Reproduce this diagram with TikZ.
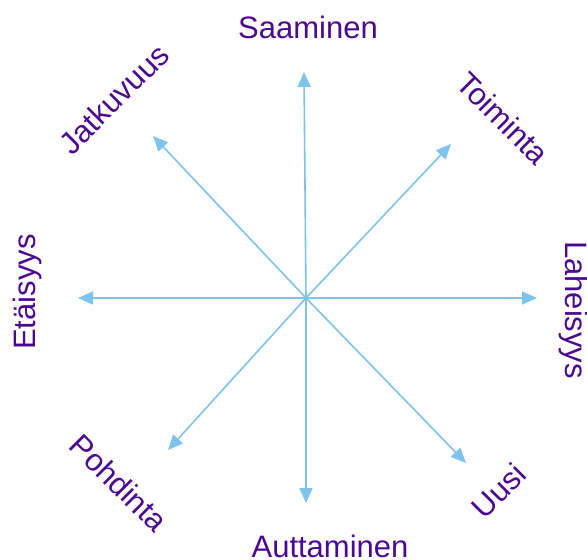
\documentclass[tikz,border=0pt]{standalone}
\usepackage{fontspec}
\setmainfont{Liberation Sans}
\usetikzlibrary{arrows.meta}
\definecolor{linecol}{RGB}{125,195,235}
\definecolor{textcol}{RGB}{75,8,145}
\tikzset{
  spoke/.style={draw=linecol, line width=1.6pt, -{Triangle[length=15pt,width=13pt]}},
  lbl/.style={text=textcol, font=\fontsize{31}{37}\selectfont, inner sep=0pt, anchor=center}
}
\begin{document}
\begin{tikzpicture}[x=1pt,y=-1pt]
\useasboundingbox (0,0) rectangle (587,560);
\coordinate (c) at (306,298);
\coordinate (tN) at (304,72);
\coordinate (tS) at (306,503);
\coordinate (tW) at (78,298);
\coordinate (tE) at (537,298);
\coordinate (tNW) at (153,136);
\coordinate (tNE) at (451,144);
\coordinate (tSW) at (168,450);
\coordinate (tSE) at (466,463);
\foreach \t in {tN,tS,tW,tE,tNW,tNE,tSW,tSE}{
  \draw[spoke] (c) -- (\t);
}
\node[lbl] (lN) at (308,27) {Saaminen};
\node[lbl] (lS) at (330,546) {Auttaminen};
\node[lbl,rotate=90] (lW) at (27,292) {Etäisyys};
\node[lbl,rotate=-90] (lE) at (574,310) {Laheisyys};
\node[lbl,rotate=45] (lNW) at (114,99) {Jatkuvuus};
\node[lbl,rotate=-45] (lNE) at (503,118) {Toiminta};
\node[lbl,rotate=-45] (lSW) at (119,483) {Pohdinta};
\node[lbl,rotate=45] (lSE) at (499,491) {Uusi};
\end{tikzpicture}
\end{document}
